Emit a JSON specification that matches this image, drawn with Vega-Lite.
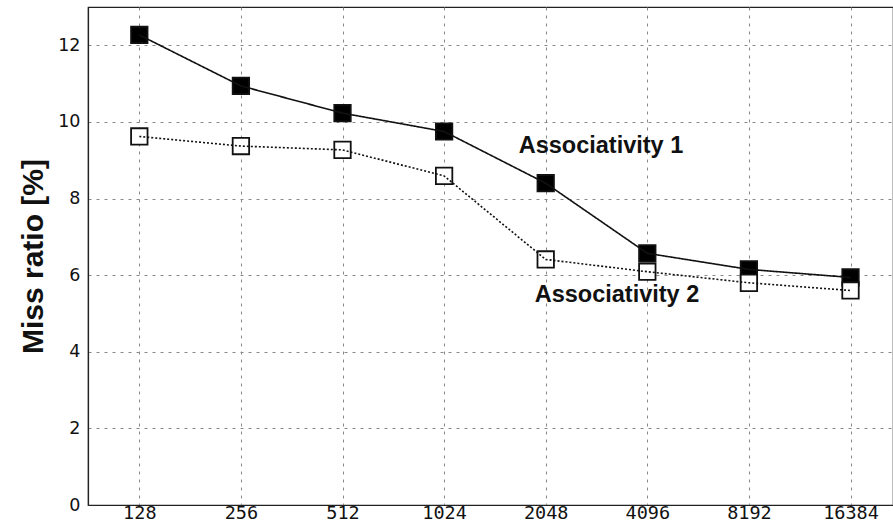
{
  "$schema": "https://vega.github.io/schema/vega-lite/v6.json",
  "autosize": "none",
  "width": 805,
  "height": 498,
  "padding": {"left": 88, "top": 7, "right": 0, "bottom": 16},
  "background": "white",
  "view": {"stroke": "#222", "strokeWidth": 1.2},
  "data": {
    "values": [
      {"size": "128", "series": "Associativity 1", "miss": 12.27},
      {"size": "256", "series": "Associativity 1", "miss": 10.94},
      {"size": "512", "series": "Associativity 1", "miss": 10.23},
      {"size": "1024", "series": "Associativity 1", "miss": 9.75},
      {"size": "2048", "series": "Associativity 1", "miss": 8.40},
      {"size": "4096", "series": "Associativity 1", "miss": 6.57},
      {"size": "8192", "series": "Associativity 1", "miss": 6.15},
      {"size": "16384", "series": "Associativity 1", "miss": 5.94},
      {"size": "128", "series": "Associativity 2", "miss": 9.62},
      {"size": "256", "series": "Associativity 2", "miss": 9.37},
      {"size": "512", "series": "Associativity 2", "miss": 9.27},
      {"size": "1024", "series": "Associativity 2", "miss": 8.59},
      {"size": "2048", "series": "Associativity 2", "miss": 6.41},
      {"size": "4096", "series": "Associativity 2", "miss": 6.09},
      {"size": "8192", "series": "Associativity 2", "miss": 5.80},
      {"size": "16384", "series": "Associativity 2", "miss": 5.60}
    ]
  },
  "encoding": {
    "x": {
      "field": "size",
      "type": "ordinal",
      "sort": ["128", "256", "512", "1024", "2048", "4096", "8192", "16384"],
      "scale": {"type": "point", "padding": 0.4616, "align": 0.547},
      "axis": {
        "title": null,
        "labelAngle": 0,
        "labelFont": "DejaVu Sans Mono",
        "labelFontSize": 18.5,
        "labelColor": "#111",
        "labelBaseline": "alphabetic",
        "labelPadding": 13,
        "ticks": false,
        "domainColor": "#222",
        "domainWidth": 1.2,
        "grid": true,
        "gridColor": "#888",
        "gridDash": [3, 5],
        "gridWidth": 1
      }
    },
    "y": {
      "field": "miss",
      "type": "quantitative",
      "scale": {"domain": [0, 13], "nice": false},
      "axis": {
        "title": "Miss ratio [%]",
        "titleFont": "Liberation Sans",
        "titleFontWeight": "bold",
        "titleFontSize": 30,
        "titleColor": "#111",
        "titlePadding": 9,
        "values": [0, 2, 4, 6, 8, 10, 12],
        "labelFont": "DejaVu Sans",
        "labelFontSize": 17.5,
        "labelColor": "#111",
        "labelPadding": 8,
        "ticks": false,
        "domainColor": "#222",
        "domainWidth": 1.2,
        "grid": true,
        "gridColor": "#888",
        "gridDash": [3, 5],
        "gridWidth": 1
      }
    }
  },
  "layer": [
    {
      "mark": {"type": "point", "shape": "square", "size": 270, "filled": true, "stroke": "#111", "strokeWidth": 1.8, "opacity": 1},
      "encoding": {
        "fill": {
          "field": "series",
          "type": "nominal",
          "scale": {"domain": ["Associativity 1", "Associativity 2"], "range": ["#000000", "#ffffff"]},
          "legend": null
        }
      }
    },
    {
      "mark": {"type": "line", "color": "#111", "strokeWidth": 1.6},
      "encoding": {
        "detail": {"field": "series"},
        "strokeDash": {
          "field": "series",
          "type": "nominal",
          "scale": {"domain": ["Associativity 1", "Associativity 2"], "range": [[1, 0], [2, 2]]},
          "legend": null
        }
      }
    },
    {
      "data": {
        "values": [
          {"size": "2048", "miss": 9.38, "label": "Associativity 1"}
        ]
      },
      "mark": {"type": "text", "align": "left", "baseline": "middle", "font": "Liberation Sans", "fontWeight": "bold", "fontSize": 23.5, "color": "#111", "dx": -27},
      "encoding": {"text": {"field": "label"}}
    },
    {
      "data": {
        "values": [
          {"size": "2048", "miss": 5.48, "label": "Associativity 2"}
        ]
      },
      "mark": {"type": "text", "align": "left", "baseline": "middle", "font": "Liberation Sans", "fontWeight": "bold", "fontSize": 23.5, "color": "#111", "dx": -11},
      "encoding": {"text": {"field": "label"}}
    }
  ]
}
